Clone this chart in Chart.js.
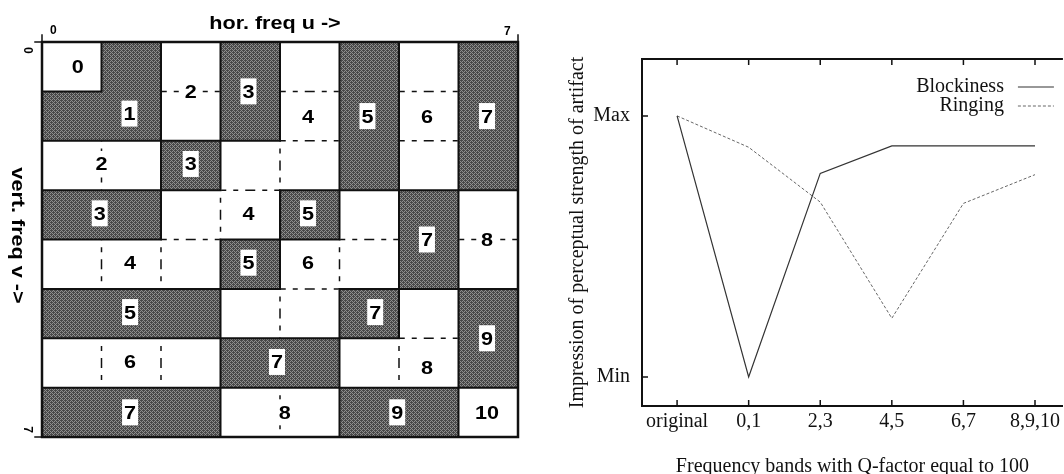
<!DOCTYPE html>
<html>
<head>
<meta charset="utf-8">
<title>DCT frequency bands and artifact strength</title>
<script src="https://cdn.jsdelivr.net/npm/chart.js@4.4.1/dist/chart.umd.min.js"></script>
<style>
  html, body { margin: 0; padding: 0; background: #fff; overflow: hidden; }
  #wrap { position: relative; width: 1064px; height: 474px; }
  #bandChart { position: absolute; left: 0; top: 0; }
  #lineChart { position: absolute; left: 540px; top: 0; }
</style>
</head>
<body>
<div id="wrap">
  <canvas id="bandChart" width="540" height="474"></canvas>
  <canvas id="lineChart" width="524" height="474"></canvas>
</div>
<script>
// ============ BAND LAYOUT (8x8 DCT block) ============
const freqIndex = [0, 1, 2, 3, 4, 5, 6, 7];

// band number of each coefficient, rows = vertical freq v, columns = horizontal freq u
const bandGrid = [
  [0, 1, 2, 3, 4, 5, 6, 7],
  [1, 1, 2, 3, 4, 5, 6, 7],
  [2, 2, 3, 4, 4, 5, 6, 7],
  [3, 3, 4, 4, 5, 6, 7, 8],
  [4, 4, 4, 5, 6, 6, 7, 8],
  [5, 5, 5, 6, 6, 7, 8, 9],
  [6, 6, 6, 7, 7, 8, 8, 9],
  [7, 7, 7, 8, 8, 9, 9, 10]
];

// [band, u, v] where each band number is written
const bandLabels = [
  [0, 0.6, 0.5], [1, 1.47, 1.45], [2, 2.5, 1.0], [3, 3.47, 1.0],
  [4, 4.47, 1.5], [5, 5.47, 1.5], [6, 6.47, 1.5], [7, 7.48, 1.5],
  [2, 1.0, 2.47], [3, 2.5, 2.47],
  [3, 0.97, 3.47], [4, 3.47, 3.47], [5, 4.47, 3.47],
  [7, 6.47, 4.0], [8, 7.48, 4.0],
  [4, 1.48, 4.47], [5, 3.47, 4.47], [6, 4.47, 4.47],
  [5, 1.48, 5.47], [7, 5.6, 5.47], [9, 7.48, 6.0],
  [6, 1.48, 6.48], [7, 3.95, 6.48], [8, 6.47, 6.6],
  [7, 1.48, 7.5], [8, 4.08, 7.5], [9, 5.97, 7.5], [10, 7.48, 7.5]
];

// ============ ARTIFACT STRENGTH ============
const bandGroups = ['original', '0,1', '2,3', '4,5', '6,7', '8,9,10'];
const blockiness = [1.0, 0.0, 0.78, 0.885, 0.885, 0.885];
const ringing = [1.0, 0.88, 0.67, 0.225, 0.665, 0.775];
const levelTicks = [0, 1];
const levelLabels = ['Min', 'Max'];

// halftone-ish grey used for the odd bands
function makeHalftone() {
  const c = document.createElement('canvas');
  c.width = 4; c.height = 4;
  const g = c.getContext('2d');
  g.fillStyle = '#8e8e8e';
  g.fillRect(0, 0, 4, 4);
  g.fillStyle = '#484848';
  [[0, 0], [2, 0], [1, 1], [3, 1], [0, 2], [2, 2], [1, 3], [3, 3], [1, 0], [3, 2]]
    .forEach(([px, py]) => g.fillRect(px, py, 1, 1));
  return g.createPattern(c, 'repeat');
}
const darkFill = makeHalftone();
const shadeFor = band => (band % 2 ? darkFill : '#ffffff');

function stretchedText(ctx, text, x, y, sx) {
  ctx.save();
  ctx.translate(x, y);
  ctx.scale(sx, 1);
  ctx.fillText(text, 0, 0);
  ctx.restore();
}

// cell borders, band numbers and axis captions of the block
const bandEdges = {
  id: 'bandEdges',
  afterDatasetsDraw(chart) {
    const { ctx, scales: { ux, y } } = chart;
    const px = u => ux.getPixelForValue(u);
    const py = v => y.getPixelForValue(v);
    const dashed = [], solid = [];

    freqIndex.forEach(v => freqIndex.forEach(u => {
      const b = bandGrid[v][u];
      if (u < 7) {
        const seg = [px(u + 1), py(v), px(u + 1), py(v + 1)];
        if (b !== bandGrid[v][u + 1]) solid.push(seg);
        else if (b % 2 === 0) dashed.push(seg);
      }
      if (v < 7) {
        const seg = [px(u), py(v + 1), px(u + 1), py(v + 1)];
        if (b !== bandGrid[v + 1][u]) solid.push(seg);
        else if (b % 2 === 0) dashed.push(seg);
      }
    }));

    ctx.save();
    ctx.strokeStyle = '#111';
    ctx.lineWidth = 1.5;
    ctx.setLineDash([5, 7]);
    ctx.beginPath();
    dashed.forEach(([x1, y1, x2, y2]) => {
      const cx = (x1 + x2) / 2, cy = (y1 + y2) / 2;
      ctx.moveTo(cx, cy); ctx.lineTo(x1, y1);
      ctx.moveTo(cx, cy); ctx.lineTo(x2, y2);
    });
    ctx.stroke();

    ctx.setLineDash([]);
    ctx.lineWidth = 2;
    ctx.lineCap = 'square';
    ctx.beginPath();
    solid.forEach(([x1, y1, x2, y2]) => { ctx.moveTo(x1, y1); ctx.lineTo(x2, y2); });
    ctx.stroke();

    // outer frame with the corner ticks
    const l = px(0), r = px(8), t = py(0), b = py(8);
    ctx.lineWidth = 2.5;
    ctx.strokeRect(l, t, r - l, b - t);
    ctx.lineWidth = 1.5;
    ctx.beginPath();
    ctx.moveTo(l - 7, t); ctx.lineTo(l, t); ctx.lineTo(l, t - 7);
    ctx.moveTo(r, t); ctx.lineTo(r, t - 7);
    ctx.moveTo(l - 7, b); ctx.lineTo(l, b);
    ctx.stroke();
    ctx.restore();
  },
  afterDraw(chart) {
    const { ctx, scales: { ux, y } } = chart;
    ctx.save();
    ctx.textAlign = 'center';
    ctx.textBaseline = 'alphabetic';

    ctx.font = 'bold 18px "Liberation Sans", Arial, sans-serif';
    bandLabels.forEach(([band, u, v]) => {
      const x = ux.getPixelForValue(u), cy = y.getPixelForValue(v);
      const txt = String(band);
      const w = ctx.measureText(txt).width * 1.2 + 4;
      ctx.fillStyle = '#ffffff';
      ctx.fillRect(x - w / 2, cy - 13, w, 26);
      ctx.fillStyle = '#000';
      stretchedText(ctx, txt, x, cy + 6.5, 1.2);
    });

    // captions
    const midX = (ux.getPixelForValue(0) + ux.getPixelForValue(8)) / 2;
    const midY = (y.getPixelForValue(0) + y.getPixelForValue(8)) / 2;
    ctx.fillStyle = '#000';
    stretchedText(ctx, 'hor. freq u ->', midX - 5, y.getPixelForValue(0) - 13, 1.2);
    ctx.save();
    ctx.translate(ux.getPixelForValue(0) - 24, midY - 4);
    ctx.rotate(Math.PI / 2);
    stretchedText(ctx, 'vert. freq v ->', 0, 6.5, 1.2);
    ctx.restore();

    // 0 / 7 index marks at the corners
    ctx.font = 'bold 12px "Liberation Sans", Arial, sans-serif';
    ctx.fillText('0', ux.getPixelForValue(0.19), y.getPixelForValue(0) - 8);
    ctx.fillText('7', ux.getPixelForValue(7.82), y.getPixelForValue(0) - 7);
    [[0, 0.17], [7, 7.85]].forEach(([n, v]) => {
      ctx.save();
      ctx.translate(ux.getPixelForValue(0) - 14, y.getPixelForValue(v));
      ctx.rotate(Math.PI / 2);
      ctx.fillText(String(n), 0, 4);
      ctx.restore();
    });
    ctx.restore();
  }
};

function initBandChart() {
  const ctx = document.getElementById('bandChart').getContext('2d');
  const rows = freqIndex.map(v => ({
    label: 'v = ' + v,
    data: freqIndex.map(() => [v, v + 1]),
    backgroundColor: freqIndex.map(u => shadeFor(bandGrid[v][u])),
    borderWidth: 0,
    grouped: false,
    barPercentage: 1,
    categoryPercentage: 1
  }));

  new Chart(ctx, {
    type: 'bar',
    data: { labels: freqIndex.map(String), datasets: rows },
    options: {
      responsive: false,
      animation: false,
      layout: { padding: { left: 42, top: 42, right: 22, bottom: 37 } },
      plugins: { legend: { display: false }, tooltip: { enabled: false } },
      scales: {
        x: { display: false, offset: true },
        y: { display: false, reverse: true, min: 0, max: 8 },
        ux: { type: 'linear', axis: 'x', position: 'bottom', display: false, offset: false, min: 0, max: 8 }
      }
    },
    plugins: [bandEdges]
  });
}

// ============ LINE CHART ============
const serif = { family: '"Liberation Serif", "Times New Roman", serif', size: 20 };

// top edge, inward ticks and the key in the upper right corner
const plotFrame = {
  id: 'plotFrame',
  afterDraw(chart) {
    const { ctx, chartArea: a, scales: { x, y } } = chart;
    ctx.save();
    ctx.strokeStyle = '#111';
    ctx.lineWidth = 2;
    ctx.beginPath();
    ctx.moveTo(a.left, a.top); ctx.lineTo(a.right, a.top);
    ctx.stroke();
    ctx.lineWidth = 1.5;
    ctx.beginPath();
    x.ticks.forEach(t => {
      const p = x.getPixelForValue(t.value);
      ctx.moveTo(p, a.top); ctx.lineTo(p, a.top + 6);
      ctx.moveTo(p, a.bottom); ctx.lineTo(p, a.bottom - 6);
    });
    y.ticks.forEach(t => {
      const p = y.getPixelForValue(t.value);
      ctx.moveTo(a.left, p); ctx.lineTo(a.left + 6, p);
    });
    ctx.stroke();

    ctx.font = '20px ' + serif.family;
    ctx.textAlign = 'right';
    ctx.textBaseline = 'middle';
    chart.data.datasets.forEach((ds, i) => {
      const ly = a.top + 28 + i * 19;
      ctx.fillStyle = '#111';
      ctx.fillText(ds.label, a.right - 59, ly);
      ctx.strokeStyle = ds.borderColor;
      ctx.lineWidth = ds.borderWidth;
      ctx.setLineDash(ds.borderDash || []);
      ctx.beginPath();
      ctx.moveTo(a.right - 45, ly); ctx.lineTo(a.right - 9, ly);
      ctx.stroke();
    });
    ctx.restore();
  }
};

function initLineChart() {
  const ctx = document.getElementById('lineChart').getContext('2d');
  const toPoints = arr => arr.map((val, i) => ({ x: i, y: val }));

  new Chart(ctx, {
    type: 'line',
    data: {
      datasets: [
        { label: 'Blockiness', data: toPoints(blockiness), borderColor: '#333', borderWidth: 1.2, pointRadius: 0, tension: 0 },
        { label: 'Ringing', data: toPoints(ringing), borderColor: '#666', borderWidth: 1, borderDash: [3, 2], pointRadius: 0, tension: 0 }
      ]
    },
    options: {
      responsive: false,
      animation: false,
      layout: { padding: { top: 59, left: 0, right: 0, bottom: 0 } },
      plugins: { legend: { display: false }, tooltip: { enabled: false } },
      scales: {
        x: {
          type: 'linear',
          min: -0.49,
          max: 5.39,
          afterBuildTicks: s => { s.ticks = bandGroups.map((_, i) => ({ value: i })); },
          afterFit: s => { s.height = 68; },
          grid: { display: false, drawTicks: false },
          border: { display: true, color: '#111', width: 2 },
          ticks: { autoSkip: false, maxRotation: 0, padding: 4, color: '#111', font: serif,
                   callback: (v, i) => bandGroups[i] },
          title: { display: true, text: 'Frequency bands with Q-factor equal to 100', color: '#111', font: serif,
                   padding: { top: 0, bottom: -5 } }
        },
        y: {
          type: 'linear',
          min: -0.111,
          max: 1.218,
          afterBuildTicks: s => { s.ticks = levelTicks.map(v => ({ value: v })); },
          afterFit: s => { s.width = 102; },
          grid: { display: false, drawTicks: false },
          border: { display: true, color: '#111', width: 2 },
          ticks: { padding: 12, color: '#111', font: serif, callback: (v, i) => levelLabels[i] },
          title: { display: true, text: 'Impression of perceptual strength of artifact', color: '#111', font: serif,
                   padding: { top: 26, bottom: 0 } }
        }
      }
    },
    plugins: [plotFrame]
  });
}

document.addEventListener('DOMContentLoaded', () => {
  initBandChart();
  initLineChart();
});
</script>
</body>
</html>
